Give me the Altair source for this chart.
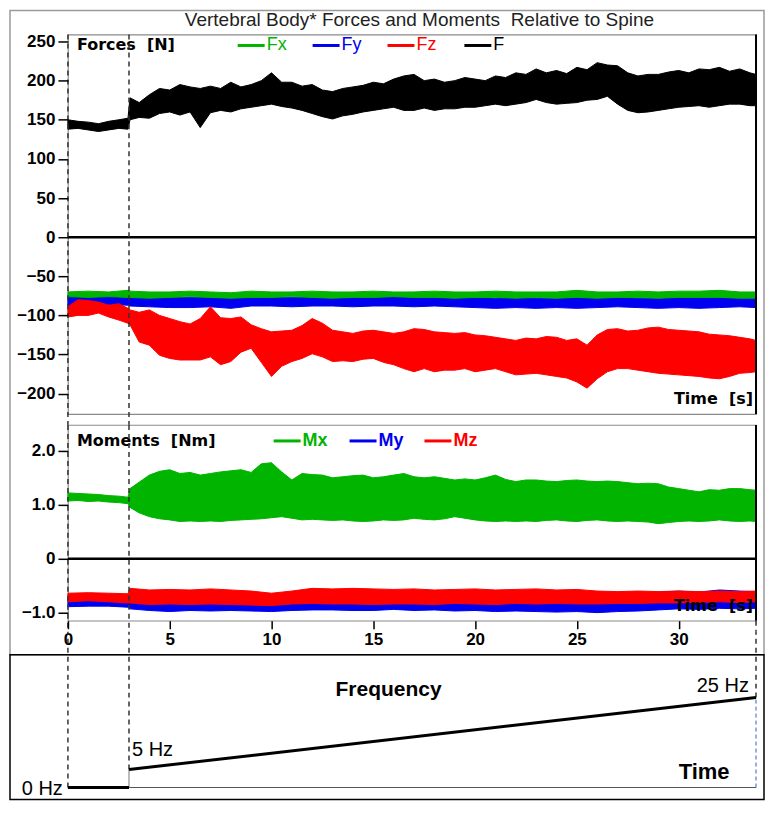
import altair as alt
import pandas as pd

# ---------------- data ----------------
T_FINE = [0, 0.5, 1, 1.5, 2, 2.5, 2.95, 3.05, 3.5, 4, 4.5, 5, 5.5, 6, 6.5, 7, 7.5, 8, 8.5, 9,
          9.5, 10, 10.5, 11, 11.5, 12, 12.5, 13, 13.5, 14, 14.5, 15, 15.5, 16, 16.5, 17, 17.5,
          18, 18.5, 19, 19.5, 20, 20.5, 21, 21.5, 22, 22.5, 23, 23.5, 24, 24.5, 25, 25.5, 26,
          26.5, 27, 27.5, 28, 28.5, 29, 29.5, 30, 30.5, 31, 31.5, 32, 32.5, 33, 33.5, 33.8]

F_LO = [138, 139, 137, 135, 137, 139, 138, 150, 153, 152, 158, 160, 156, 160, 140, 159, 162, 160,
        164, 166, 168, 170, 167, 165, 162, 158, 154, 151, 155, 157, 160, 162, 164, 166, 162, 162,
        165, 162, 164, 164, 166, 166, 168, 170, 168, 170, 172, 176, 172, 170, 171, 172, 175, 176,
        180, 170, 162, 159, 160, 162, 164, 166, 167, 168, 166, 168, 170, 170, 168, 168]
F_HI = [150, 148, 147, 145, 148, 150, 152, 178, 172, 182, 190, 188, 195, 192, 190, 193, 190, 198,
        192, 195, 200, 210, 198, 198, 193, 195, 188, 186, 190, 192, 194, 198, 196, 202, 206, 208,
        200, 202, 198, 200, 204, 202, 200, 206, 204, 210, 208, 215, 210, 213, 209, 217, 214, 223,
        220, 219, 210, 206, 208, 208, 211, 213, 210, 215, 214, 217, 212, 215, 210, 208]

FZ_LO = [-102, -100, -100, -97, -102, -106, -110, -112, -134, -138, -151, -155, -157, -157, -157,
         -153, -163, -159, -147, -142, -160, -178, -165, -159, -155, -149, -153, -159, -158, -159,
         -156, -155, -160, -163, -168, -172, -168, -172, -170, -170, -168, -172, -170, -168, -172,
         -176, -175, -174, -176, -178, -180, -185, -193, -181, -172, -168, -168, -170, -172, -174,
         -175, -176, -177, -178, -180, -181, -178, -174, -173, -172]
FZ_HI = [-89, -80, -81, -83, -87, -85, -91, -93, -96, -93, -100, -104, -108, -111, -104, -89, -103,
         -104, -102, -112, -117, -121, -120, -119, -113, -104, -110, -119, -121, -123, -120, -119,
         -121, -123, -121, -117, -118, -121, -122, -123, -122, -125, -126, -128, -130, -132, -129,
         -130, -127, -128, -132, -130, -138, -125, -118, -117, -120, -119, -116, -115, -118, -119,
         -120, -121, -124, -125, -126, -128, -130, -132]

MX_LO = [1.07, 1.08, 1.06, 1.07, 1.05, 1.04, 1.02, 0.95, 0.85, 0.78, 0.74, 0.72, 0.69, 0.70, 0.69,
         0.70, 0.69, 0.71, 0.72, 0.73, 0.74, 0.76, 0.78, 0.75, 0.72, 0.73, 0.72, 0.71, 0.72, 0.70,
         0.69, 0.70, 0.72, 0.71, 0.72, 0.75, 0.73, 0.72, 0.74, 0.78, 0.75, 0.72, 0.70, 0.69, 0.70,
         0.69, 0.70, 0.69, 0.71, 0.72, 0.70, 0.69, 0.71, 0.72, 0.70, 0.69, 0.70, 0.69, 0.68, 0.65,
         0.67, 0.69, 0.70, 0.69, 0.70, 0.72, 0.70, 0.69, 0.70, 0.69]
MX_HI = [1.22, 1.21, 1.20, 1.19, 1.17, 1.16, 1.14, 1.30, 1.42, 1.55, 1.62, 1.65, 1.58, 1.60, 1.55,
         1.58, 1.61, 1.63, 1.65, 1.60, 1.76, 1.78, 1.61, 1.46, 1.58, 1.56, 1.55, 1.50, 1.52, 1.54,
         1.55, 1.50, 1.52, 1.55, 1.58, 1.52, 1.50, 1.52, 1.49, 1.46, 1.48, 1.46, 1.50, 1.55, 1.47,
         1.43, 1.46, 1.46, 1.44, 1.43, 1.45, 1.46, 1.44, 1.43, 1.44, 1.43, 1.41, 1.39, 1.40, 1.39,
         1.33, 1.30, 1.27, 1.24, 1.28, 1.27, 1.30, 1.30, 1.28, 1.27]

T_COARSE = [0, 1, 2, 2.95, 3.05, 4, 5, 6, 7, 8, 9, 10, 11, 12, 13, 14, 15, 16, 17, 18, 19, 20,
            21, 22, 23, 24, 25, 26, 27, 28, 29, 30, 31, 32, 33, 33.8]

FX_LO = [-76, -77, -76, -77, -77, -78, -77, -76, -77, -78, -77, -77, -76, -77, -78, -77, -77, -76,
         -77, -77, -78, -77, -77, -78, -77, -78, -77, -78, -77, -77, -78, -77, -77, -77, -78, -78]
FX_HI = [-70, -69, -70, -68, -69, -70, -70, -69, -70, -71, -69, -70, -70, -69, -70, -70, -69, -70,
         -70, -69, -70, -70, -69, -70, -70, -70, -68, -70, -70, -69, -70, -69, -69, -68, -70, -70]
FY_LO = [-88, -87, -86, -87, -88, -89, -90, -90, -89, -91, -88, -88, -89, -88, -88, -89, -88, -88,
         -89, -88, -89, -90, -91, -90, -91, -90, -91, -90, -89, -90, -91, -90, -91, -90, -89, -90]
FY_HI = [-75, -76, -76, -76, -77, -77, -77, -77, -77, -77, -76, -77, -77, -76, -77, -77, -77, -76,
         -77, -77, -77, -77, -78, -77, -78, -78, -77, -77, -77, -78, -78, -77, -77, -76, -77, -77]

MZ_LO = [-0.80, -0.78, -0.80, -0.82, -0.82, -0.85, -0.84, -0.85, -0.84, -0.85, -0.86, -0.87, -0.84,
         -0.83, -0.84, -0.84, -0.85, -0.84, -0.84, -0.85, -0.83, -0.84, -0.85, -0.83, -0.84, -0.83,
         -0.84, -0.84, -0.83, -0.83, -0.82, -0.82, -0.81, -0.80, -0.81, -0.80]
MZ_HI = [-0.64, -0.63, -0.64, -0.65, -0.55, -0.58, -0.57, -0.58, -0.56, -0.58, -0.60, -0.64, -0.60,
         -0.55, -0.56, -0.55, -0.56, -0.57, -0.56, -0.58, -0.57, -0.56, -0.58, -0.57, -0.56, -0.58,
         -0.57, -0.60, -0.61, -0.60, -0.61, -0.60, -0.61, -0.60, -0.61, -0.60]
MY_LO = [-0.89, -0.88, -0.88, -0.90, -0.93, -0.96, -0.98, -0.96, -0.97, -0.96, -0.97, -0.98, -0.96,
         -0.95, -0.95, -0.96, -0.96, -0.94, -0.96, -0.95, -0.97, -0.96, -0.98, -0.97, -0.98, -0.99,
         -0.98, -1.00, -0.98, -0.97, -0.95, -0.93, -0.94, -0.92, -0.93, -0.92]
MY_HI = [-0.72, -0.72, -0.73, -0.74, -0.74, -0.76, -0.76, -0.75, -0.76, -0.75, -0.76, -0.77, -0.76,
         -0.75, -0.74, -0.75, -0.76, -0.74, -0.75, -0.74, -0.75, -0.74, -0.75, -0.74, -0.75, -0.76,
         -0.74, -0.73, -0.72, -0.66, -0.62, -0.60, -0.62, -0.58, -0.60, -0.61]

FREQ_T = [0, 3, 3, 33.8]
FREQ_HZ = [0, 0, 5, 25]
FREQ_SEG = ["off", "off", "sweep", "sweep"]
MARK_T = [0, 3]

F_TICKS = [-200, -150, -100, -50, 0, 50, 100, 150, 200, 250]
M_TICKS = [-1, 0, 1, 2]
T_TICKS = [0, 5, 10, 15, 20, 25, 30]

# ---------------- styles / layout ----------------
GREEN, BLUE, RED, BLACK = "#00b400", "#0000f0", "#ff0000", "#000000"
TICK_FONT = "Liberation Sans"
LBL_FONT = "DejaVu Sans"
W, H_F, H_M, H_B = 689, 380, 196, 145
GAP1, GAP2 = 11, 34
OFF_B = GAP2 - GAP1          # bottom panel box starts this far below its plot top
H_BP = H_B + OFF_B

XS = alt.Scale(domain=[0, 33.8], nice=False, zero=False)
YF = alt.Scale(domain=[-226, 259], nice=False, zero=False)
YM = alt.Scale(domain=[-1.15, 2.48], nice=False, zero=False)
YB = alt.Scale(domain=[-3.33, 43.33], nice=False, zero=False)
ONE = alt.Data(values=[{"k": 0}])


def yaxis(values, expr=None):
    kw = dict(values=values, title=None, domain=False, grid=False, tickSize=10, tickColor="black",
              tickWidth=1.5, labelFont=TICK_FONT, labelFontWeight="bold", labelFontSize=17,
              labelColor="black", labelPadding=3, labelOverlap=False, labelFlush=False, zindex=3)
    if expr:
        kw["labelExpr"] = expr
    return alt.Axis(**kw)


YAX_F = yaxis(F_TICKS)
YAX_M = yaxis(M_TICKS, "datum.value == 0 ? '0' : format(datum.value, '.1f')")
XAX_M = alt.Axis(values=T_TICKS, format="d", title=None, domain=False, grid=False, tickSize=8,
                 tickColor="black", tickWidth=1.5, labelFont=TICK_FONT, labelFontWeight="bold",
                 labelFontSize=17, labelColor="black", labelPadding=3, labelOverlap=False,
                 labelFlush=False, zindex=3)


def band(t, lo, hi, color, ys, xax, yax):
    d = pd.DataFrame({"t": t, "lo": lo, "hi": hi})
    return alt.Chart(d).mark_area(color=color, stroke=color, strokeWidth=1, opacity=1).encode(
        x=alt.X("t:Q", scale=XS, axis=xax),
        y=alt.Y("lo:Q", scale=ys, axis=yax),
        y2=alt.Y2("hi:Q"))


def zero_line(ys, xax, yax):
    d = pd.DataFrame({"t0": [0], "t1": [33.8], "v": [0]})
    return alt.Chart(d).mark_rule(color="black", strokeWidth=2.5).encode(
        x=alt.X("t0:Q", scale=XS, axis=xax), x2="t1:Q", y=alt.Y("v:Q", scale=ys, axis=yax))


def legend(title, items, yy):
    out = [alt.Chart(ONE).mark_text(text=title, font=LBL_FONT, fontWeight="bold", fontSize=16,
                                    align="left", baseline="middle", color="black").encode(
        x=alt.value(9), y=alt.value(yy))]
    for lab, col, x0, weight in items:
        out.append(alt.Chart(ONE).mark_rule(color=col, strokeWidth=3).encode(
            x=alt.value(x0), x2=alt.value(x0 + 27), y=alt.value(yy)))
        out.append(alt.Chart(ONE).mark_text(text=lab, font=TICK_FONT, fontWeight=weight, fontSize=18,
                                            align="left", baseline="middle", color=col).encode(
            x=alt.value(x0 + 29), y=alt.value(yy)))
    return out


def time_label(yy):
    return alt.Chart(ONE).mark_text(text="Time\u00a0 [s]", font=LBL_FONT, fontWeight="bold", fontSize=16,
                                    align="right", baseline="middle", color="black").encode(
        x=alt.value(W - 3), y=alt.value(yy))


def dashed(y2px, xax):
    return alt.Chart(pd.DataFrame({"t": MARK_T})).mark_rule(
        color="#333", strokeDash=[5, 4], strokeWidth=1.5).encode(
        x=alt.X("t:Q", scale=XS, axis=xax), y=alt.value(0), y2=alt.value(y2px))


def right_edge(h):
    return alt.Chart(ONE).mark_rule(color="black", strokeWidth=2).encode(
        x=alt.value(W), y=alt.value(0), y2=alt.value(h))


def outline(x1, x2, y1, y2, color, sw):
    return alt.Chart(ONE).mark_rect(filled=False, fill="transparent", stroke=color, strokeWidth=sw).encode(
        x=alt.value(x1), x2=alt.value(x2), y=alt.value(y1), y2=alt.value(y2))


# ---------------- forces panel ----------------
frame = outline(-58, W + 8, -24, H_F + GAP1 + H_M + GAP2, "#9a9a9a", 1.5)
title = alt.Chart(ONE).mark_text(text="Vertebral Body* Forces and Moments\u00a0 Relative to Spine",
                                 font="Liberation Sans", fontSize=19,
                                 color="#222").encode(x=alt.value(352), y=alt.value(-14))

forces = alt.layer(
    band(T_COARSE, FY_LO, FY_HI, BLUE, YF, None, YAX_F),
    band(T_COARSE, FX_LO, FX_HI, GREEN, YF, None, YAX_F),
    band(T_FINE, FZ_LO, FZ_HI, RED, YF, None, YAX_F),
    band(T_FINE, F_LO, F_HI, BLACK, YF, None, YAX_F),
    frame, title,
    zero_line(YF, None, YAX_F),
    time_label(365),
    *legend("Forces\u00a0 [N]", [("Fx", GREEN, 170, "normal"), ("Fy", BLUE, 245, "normal"),
                                 ("Fz", RED, 320, "normal"), ("F", BLACK, 397, "normal")], 11),
    dashed(H_F + GAP1, None),
    right_edge(H_F),
).properties(width=W, height=H_F, view=alt.ViewBackground(stroke="#8a8a8a", strokeWidth=1.2))

# ---------------- moments panel ----------------
right_dash = alt.Chart(ONE).mark_rule(color="#333", strokeDash=[5, 4], strokeWidth=1.5).encode(
    x=alt.value(W), y=alt.value(H_M), y2=alt.value(H_M + GAP1))

moments = alt.layer(
    band(T_COARSE, MY_LO, MY_HI, BLUE, YM, XAX_M, YAX_M),
    band(T_COARSE, MZ_LO, MZ_HI, RED, YM, XAX_M, YAX_M),
    band(T_FINE, MX_LO, MX_HI, GREEN, YM, XAX_M, YAX_M),
    time_label(181),
    zero_line(YM, XAX_M, YAX_M),
    *legend("Moments\u00a0 [Nm]", [("Mx", GREEN, 206, "bold"), ("My", BLUE, 282, "bold"),
                                   ("Mz", RED, 357, "bold")], 16),
    dashed(H_M + GAP1, XAX_M),
    right_edge(H_M),
    right_dash,
).properties(width=W, height=H_M, view=alt.ViewBackground(stroke="#8a8a8a", strokeWidth=1.2))

# ---------------- frequency panel ----------------
freq = pd.DataFrame({"t": FREQ_T, "f": FREQ_HZ, "seg": FREQ_SEG})
box = outline(-58, W + 8, OFF_B, H_BP, "black", 1.5)
baseline = alt.Chart(pd.DataFrame({"t0": [FREQ_T[0]], "t1": [FREQ_T[-1]], "f": [0]})).mark_rule(
    color="#555", strokeWidth=1).encode(
    x=alt.X("t0:Q", scale=XS, axis=None), x2="t1:Q", y=alt.Y("f:Q", scale=YB, axis=None))
jump = alt.Chart(pd.DataFrame({"t": [FREQ_T[2]], "a": [FREQ_HZ[1]], "b": [FREQ_HZ[2]]})).mark_rule(
    color="#777", strokeWidth=1).encode(
    x=alt.X("t:Q", scale=XS, axis=None), y=alt.Y("a:Q", scale=YB, axis=None), y2="b:Q")
end_blue = alt.Chart(pd.DataFrame({"t": [FREQ_T[-1]], "a": [0], "b": [FREQ_HZ[-1]]})).mark_rule(
    color="#3060c0", strokeDash=[4, 3], strokeWidth=1).encode(
    x=alt.X("t:Q", scale=XS, axis=None), y=alt.Y("a:Q", scale=YB, axis=None), y2="b:Q")
drops = alt.Chart(pd.DataFrame({"t": [FREQ_T[0], FREQ_T[2], FREQ_T[-1]],
                                "f": [FREQ_HZ[0], FREQ_HZ[2], FREQ_HZ[-1]]})).mark_rule(
    color="#333", strokeDash=[5, 4], strokeWidth=1.5).encode(
    x=alt.X("t:Q", scale=XS, axis=None), y=alt.Y("f:Q", scale=YB, axis=None), y2=alt.value(0))
fline = alt.Chart(freq).mark_line(color="black", strokeWidth=3).encode(
    x=alt.X("t:Q", scale=XS, axis=None), y=alt.Y("f:Q", scale=YB, axis=None), detail="seg:N")


def btext(txt, t, f, weight, size, align):
    return alt.Chart(pd.DataFrame({"t": [t], "f": [f]})).mark_text(
        text=txt, font=TICK_FONT, fontWeight=weight, fontSize=size, align=align,
        baseline="middle", color="black").encode(
        x=alt.X("t:Q", scale=XS, axis=None), y=alt.Y("f:Q", scale=YB, axis=None))


bottom = alt.layer(
    box, baseline, jump, end_blue, drops, fline,
    btext("Frequency", 15.75, 27.2, "bold", 21, "center"),
    btext("Time", 31.25, 4.4, "bold", 22, "center"),
    btext("0 Hz", -0.25, -0.55, "normal", 20, "right"),
    btext("5 Hz", 3.15, 10.3, "normal", 20, "left"),
    btext("25 Hz", 33.45, 28.3, "normal", 20, "right"),
).properties(width=W, height=H_BP, view=alt.ViewBackground(stroke="transparent"))

chart = alt.vconcat(forces, moments, bottom, spacing=GAP1, bounds="flush").properties(
    padding=0, background="white")

chart.save("out.html", embed_options={"renderer": "svg", "actions": False})
